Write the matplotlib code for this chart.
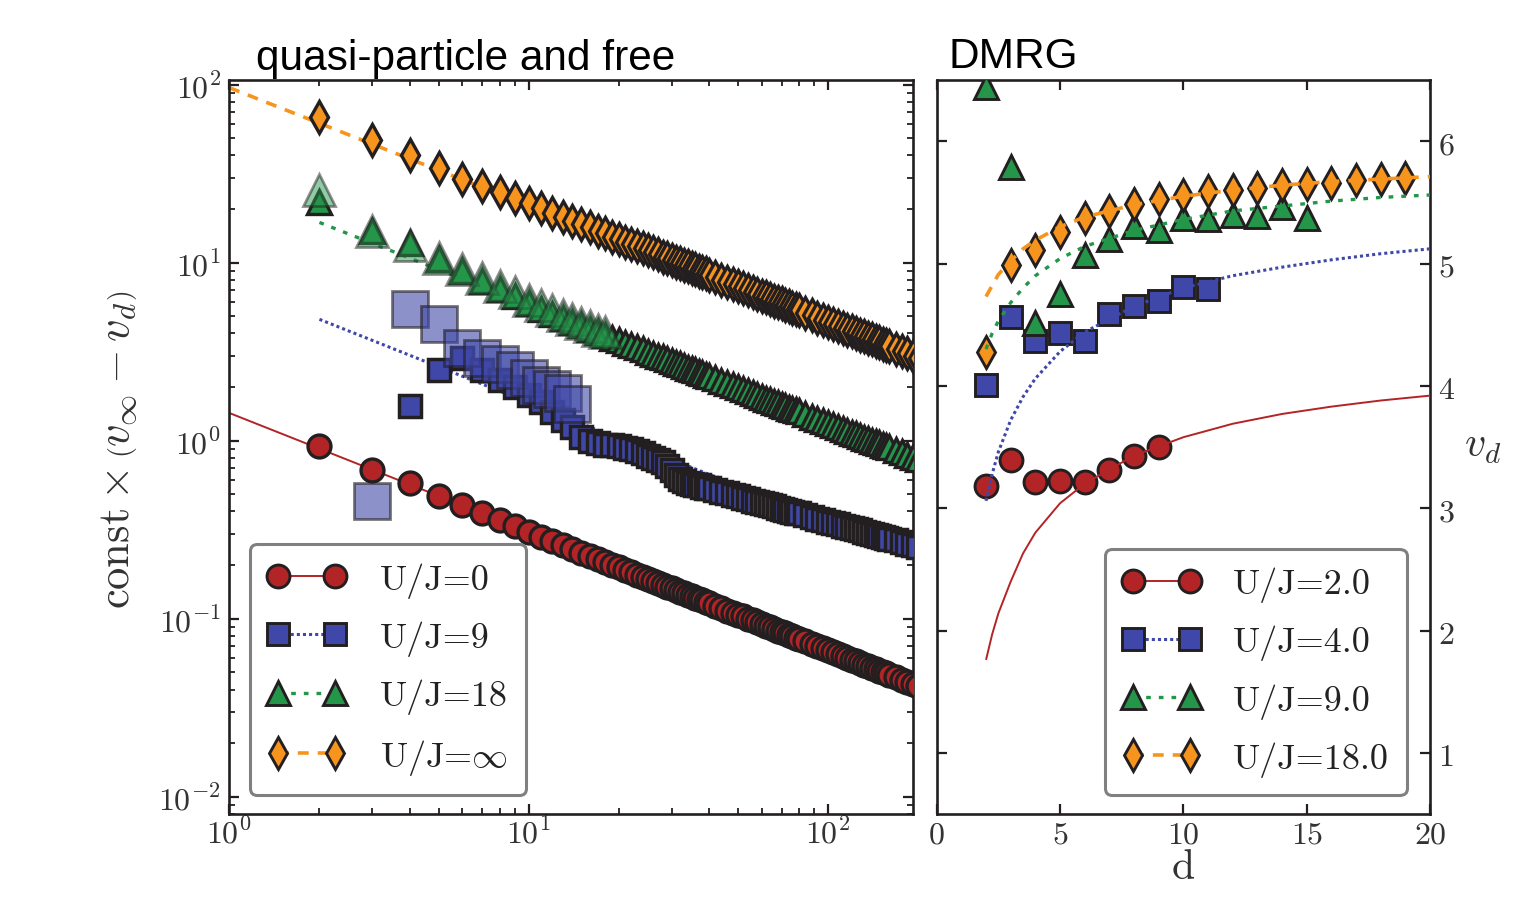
import matplotlib

matplotlib.use("Agg")
import matplotlib.pyplot as plt
import numpy as np
from matplotlib import ticker
from matplotlib.legend_handler import HandlerLine2D
from matplotlib.lines import Line2D

plt.rcParams["mathtext.fontset"] = "cm"

# ---- left panel: const x (v_inf - v_d) against d (log-log) ----
D_GRID = list(range(2, 41)) + list(range(42, 81, 2)) + list(range(84, 161, 4)) + list(range(168, 201, 8))

RED_Y = [0.93, 0.687, 0.575, 0.489, 0.433, 0.391, 0.358, 0.330, 0.308, 0.289, 0.273, 0.259, 0.246,
         0.235, 0.225, 0.216, 0.208, 0.201, 0.194, 0.188, 0.182, 0.177, 0.172, 0.167, 0.163, 0.159,
         0.155, 0.151, 0.148, 0.145, 0.142, 0.139, 0.136, 0.134, 0.131, 0.129, 0.127, 0.124, 0.122,
         0.118, 0.115, 0.111, 0.108, 0.105, 0.103, 0.100, 0.0977, 0.0954, 0.0934, 0.0912, 0.0894,
         0.0875, 0.0858, 0.0842, 0.0827, 0.0811, 0.0797, 0.0784, 0.0771,
         0.0745, 0.0722, 0.0702, 0.0682, 0.0664, 0.0646, 0.0631, 0.0615, 0.0601, 0.0588, 0.0575,
         0.0563, 0.0552, 0.0541, 0.0531, 0.0521, 0.0511, 0.0502, 0.0493, 0.0485,
         0.0469, 0.0455, 0.0442, 0.0429, 0.0418]

BLUE_Y = [1.56, 2.5, 2.9, 2.5, 2.2, 2.0, 1.8, 1.65, 1.45, 1.3, 1.2, 1.05, 1.0, 0.97, 0.95, 0.94,
          0.93, 0.91, 0.90, 0.88, 0.85, 0.82, 0.80, 0.78, 0.76, 0.72, 0.68, 0.64, 0.61, 0.59, 0.58,
          0.57, 0.565, 0.56, 0.55, 0.545, 0.54,
          0.528, 0.516, 0.506, 0.496, 0.486, 0.477, 0.469, 0.461, 0.453, 0.446, 0.439, 0.433,
          0.427, 0.421, 0.415, 0.410, 0.404, 0.399, 0.394, 0.390,
          0.381, 0.373, 0.365, 0.358, 0.351, 0.345, 0.339, 0.333, 0.327, 0.322, 0.317, 0.313,
          0.308, 0.304, 0.300, 0.296, 0.292, 0.288, 0.285, 0.281,
          0.275, 0.269, 0.264, 0.258, 0.253]

GREEN_Y = [22, 15.1, 12.9, 10.5, 9.0, 7.9, 7.1, 6.5, 5.9, 5.46, 5.15, 4.88, 4.65, 4.44, 4.25, 4.08,
           3.93, 3.79, 3.66, 3.55, 3.44, 3.34, 3.25, 3.16, 3.08, 3.00, 2.93, 2.86, 2.80, 2.74, 2.68,
           2.62, 2.57, 2.52, 2.48, 2.43, 2.39, 2.35, 2.31,
           2.24, 2.17, 2.10, 2.04, 1.99, 1.94, 1.89, 1.84, 1.80, 1.76, 1.72, 1.69, 1.65, 1.62,
           1.59, 1.56, 1.53, 1.50, 1.48, 1.46,
           1.41, 1.36, 1.33, 1.29, 1.25, 1.22, 1.19, 1.16, 1.13, 1.11, 1.09, 1.06, 1.04, 1.02,
           1.00, 0.983, 0.964, 0.948, 0.932, 0.915,
           0.886, 0.859, 0.834, 0.810, 0.788]

ORANGE_Y = [66, 48.5, 40.0, 33.8, 29.5, 27.0, 24.9, 23.0, 21.5, 20.2, 19.1, 18.1, 17.2, 16.4, 15.8,
            15.1, 14.6, 14.0, 13.6, 13.1, 12.7, 12.4, 12.0, 11.7, 11.4, 11.1, 10.8, 10.6, 10.4,
            10.1, 9.92, 9.72, 9.53, 9.35, 9.18, 9.01, 8.85, 8.70, 8.55,
            8.28, 8.02, 7.79, 7.57, 7.37, 7.18, 7.00, 6.83, 6.67, 6.53, 6.38, 6.25, 6.12, 6.00,
            5.89, 5.78, 5.67, 5.57, 5.48, 5.39,
            5.21, 5.05, 4.91, 4.77, 4.64, 4.52, 4.41, 4.30, 4.20, 4.11, 4.02, 3.94, 3.86, 3.78,
            3.71, 3.64, 3.57, 3.51, 3.45, 3.39,
            3.28, 3.18, 3.09, 3.00, 2.92]

# "free" results, drawn faded
FREE_BLUE_D = list(range(3, 15))
FREE_BLUE_Y = [0.46, 5.5, 4.5, 3.3, 2.9, 2.7, 2.5, 2.25, 2.05, 1.95, 1.85, 1.6]
FREE_GREEN_D = list(range(2, 19))
FREE_GREEN_Y = [25.5, 15.0, 12.5, 10.6, 9.2, 8.2, 7.4, 6.8, 6.2, 5.8, 5.4, 5.1, 4.85, 4.6, 4.4, 4.2, 4.05]

# power-law guide lines (end points)
RED_LINE = ([1, 200], [1.43, 0.0418])
BLUE_LINE = ([2, 200], [4.8, 0.22])
GREEN_LINE = ([2, 200], [16.8, 0.79])
ORANGE_LINE = ([1, 200], [96, 2.85])

LEFT_LABELS = ["U/J=0", "U/J=9", "U/J=18", r"U/J=$\infty$"]

# ---- right panel: DMRG v_d against d ----
DMRG_RED_Y = [3.18, 3.39, 3.21, 3.22, 3.21, 3.31, 3.43, 3.50]
DMRG_BLUE_Y = [4.01, 4.56, 4.37, 4.43, 4.37, 4.59, 4.65, 4.69, 4.81, 4.79]
DMRG_GREEN_Y = [6.44, 5.79, 4.51, 4.75, 5.07, 5.20, 5.31, 5.27, 5.37, 5.36, 5.40, 5.39, 5.46, 5.37]
DMRG_ORANGE_Y = [4.28, 4.99, 5.11, 5.26, 5.37, 5.43, 5.49, 5.53, 5.56, 5.59, 5.60, 5.62, 5.64, 5.65,
                 5.66, 5.68, 5.69, 5.70]

FIT_D = [2, 2.25, 2.5, 3, 3.5, 4, 5, 6, 8, 10, 12, 14, 16, 18, 20]
FIT_RED = [1.76, 1.97, 2.14, 2.40, 2.63, 2.80, 3.04, 3.20, 3.43, 3.58, 3.69, 3.77, 3.83, 3.88, 3.92]
FIT_BLUE = [3.06, 3.28, 3.46, 3.72, 3.91, 4.06, 4.28, 4.44, 4.65, 4.80, 4.90, 4.97, 5.03, 5.08, 5.12]
FIT_GREEN = [4.30, 4.43, 4.53, 4.68, 4.80, 4.90, 5.04, 5.14, 5.27, 5.36, 5.43, 5.47, 5.51, 5.54, 5.56]
FIT_ORANGE = [4.73, 4.82, 4.91, 5.02, 5.12, 5.19, 5.30, 5.38, 5.48, 5.55, 5.60, 5.64, 5.67, 5.69, 5.71]

RIGHT_LABELS = ["U/J=2.0", "U/J=4.0", "U/J=9.0", "U/J=18.0"]

RED = "#b22426"
BLUE = "#3f48a8"
GREEN = "#24964a"
ORANGE = "#f7941e"
INK = "#231f20"
EDGE = "#231f20"
MEW = 2.1

STYLES = {
    "red": dict(color=RED, marker="o", ls="-", lw=1.4, ms=16.5),
    "blue": dict(color=BLUE, marker="s", ls=(0, (1, 1)), lw=2.2, ms=16),
    "green": dict(color=GREEN, marker="^", ls=(0, (1.4, 2.4)), lw=2.4, ms=17),
    "orange": dict(color=ORANGE, marker="d", ls=(0, (3, 2.5)), lw=2.6, ms=16),
}
ORDER = ["red", "blue", "green", "orange"]


class ShiftedLineHandler(HandlerLine2D):
    # markers sit at the very ends of the handle, whole handle nudged right
    def __init__(self, shift):
        super().__init__(marker_pad=0)
        self.shift = shift

    def create_artists(self, legend, orig_handle, xdescent, ydescent, width, height, fontsize, trans):
        return super().create_artists(legend, orig_handle, xdescent - self.shift, ydescent,
                                      width, height, fontsize, trans)


def markers(ax, x, y, key, z, **kw):
    st = STYLES[key]
    opts = dict(ls="none", marker=st["marker"], ms=st["ms"], mfc=st["color"], mec=EDGE, mew=MEW, zorder=z)
    opts.update(kw)
    ax.plot(x, y, **opts)


def guide(ax, x, y, key, z):
    st = STYLES[key]
    ax.plot(x, y, color=st["color"], ls=st["ls"], lw=st["lw"], zorder=z, solid_capstyle="butt")


def legend_handles():
    handles = []
    for key in ORDER:
        st = STYLES[key]
        handles.append(Line2D([], [], color=st["color"], ls=st["ls"], lw=st["lw"], marker=st["marker"],
                              ms=st["ms"], mfc=st["color"], mec=EDGE, mew=MEW))
    return handles


def add_legend(ax, labels, anchor, shift, textpad):
    leg = ax.legend(legend_handles(), labels, loc="lower left", bbox_to_anchor=anchor, borderaxespad=0,
                    numpoints=2, handlelength=1.58, handletextpad=textpad, labelspacing=0.63, borderpad=0.5,
                    prop={"family": "cmr10", "size": 26}, fancybox=True, framealpha=1,
                    handler_map={Line2D: ShiftedLineHandler(shift)})
    frame = leg.get_frame()
    frame.set_edgecolor("#808080")
    frame.set_linewidth(2.2)
    for t in leg.get_texts():
        t.set_color("#222222")
    leg.set_zorder(10)
    return leg


def style_axes(ax):
    for sp in ax.spines.values():
        sp.set_linewidth(1.9)
        sp.set_color(INK)
    ax.tick_params(which="both", direction="in", top=True, right=True, colors=INK,
                   labelcolor="#333333", labelsize=23, pad=6)
    ax.tick_params(axis="x", pad=3)
    ax.tick_params(which="major", length=7, width=1.6)
    ax.tick_params(which="minor", length=4, width=1.3)


fig = plt.figure(figsize=(15.26, 9.04), dpi=100)
W, H = 1526, 904
ax1 = fig.add_axes([229.3 / W, 1 - 815 / H, (913 - 229.3) / W, (815 - 81) / H])
ax2 = fig.add_axes([936.7 / W, 1 - 815 / H, (1430 - 936.7) / W, (815 - 81) / H])

# left panel
ax1.set_xscale("log")
ax1.set_yscale("log")
guide(ax1, *RED_LINE, "red", 2)
guide(ax1, *BLUE_LINE, "blue", 2)
guide(ax1, *GREEN_LINE, "green", 2)
guide(ax1, *ORANGE_LINE, "orange", 2)
markers(ax1, D_GRID[2:], BLUE_Y, "blue", 3, mew=2.5)
markers(ax1, FREE_BLUE_D, FREE_BLUE_Y, "blue", 4, ms=26, alpha=0.6, mew=2)
markers(ax1, D_GRID, GREEN_Y, "green", 3, mew=2.4)
markers(ax1, FREE_GREEN_D, FREE_GREEN_Y, "green", 4, ms=23, alpha=0.5, mew=2)
markers(ax1, D_GRID, ORANGE_Y, "orange", 3, mew=2.4)
markers(ax1, D_GRID, RED_Y, "red", 5, mew=2.4)
ax1.set_xlim(1, 192)
ax1.set_ylim(0.008, 106)
style_axes(ax1)
log_fmt = ticker.FuncFormatter(lambda v, p: r"$10^{%d}$" % round(np.log10(v)))
ax1.xaxis.set_major_formatter(log_fmt)
ax1.yaxis.set_major_formatter(log_fmt)
ax1.xaxis.set_minor_formatter(ticker.NullFormatter())
ax1.yaxis.set_minor_formatter(ticker.NullFormatter())
ax1.yaxis.set_major_locator(ticker.LogLocator(base=10, numticks=10))
ax1.yaxis.set_minor_locator(ticker.LogLocator(base=10, subs=np.arange(2, 10), numticks=20))
add_legend(ax1, LEFT_LABELS, ((250 - 229.3) / 683.7, (815 - 796) / 734), shift=7.2, textpad=1.25 + 0.28)

# right panel
guide(ax2, FIT_D, FIT_RED, "red", 6)
guide(ax2, FIT_D, FIT_BLUE, "blue", 6)
guide(ax2, FIT_D, FIT_GREEN, "green", 6)
guide(ax2, FIT_D, FIT_ORANGE, "orange", 6)
markers(ax2, range(2, 2 + len(DMRG_RED_Y)), DMRG_RED_Y, "red", 3)
markers(ax2, range(2, 2 + len(DMRG_BLUE_Y)), DMRG_BLUE_Y, "blue", 3.1)
markers(ax2, range(2, 2 + len(DMRG_GREEN_Y)), DMRG_GREEN_Y, "green", 3.2)
markers(ax2, range(2, 2 + len(DMRG_ORANGE_Y)), DMRG_ORANGE_Y, "orange", 3.3)
ax2.set_xlim(0, 20)
ax2.set_ylim(0.5, 6.5)
style_axes(ax2)
ax2.set_xticks([0, 5, 10, 15, 20])
ax2.set_yticks([1, 2, 3, 4, 5, 6])
int_fmt = ticker.FuncFormatter(lambda v, p: r"$%d$" % round(v))
ax2.xaxis.set_major_formatter(int_fmt)
ax2.yaxis.set_major_formatter(int_fmt)
ax2.tick_params(axis="y", labelleft=False, labelright=True)
add_legend(ax2, RIGHT_LABELS, ((1105 - 936.7) / 493.3, (815 - 796) / 734), shift=7.2, textpad=1.25 + 0.2)

# texts
fig.text(256 / W, 1 - 70 / H, "quasi-particle and free", family="Liberation Sans", fontsize=30.5,
         va="baseline", ha="left", color="black")
fig.text(948 / W, 1 - 68 / H, "DMRG", family="Liberation Sans", fontsize=30.5,
         va="baseline", ha="left", color="black")
fig.text(118 / W, 1 - 450 / H, r"$\mathrm{const}\times\left(v_\infty-v_d\right)$", rotation=90,
         ha="center", va="center", fontsize=32, color="#333333")
fig.text(1483 / W, 1 - 445 / H, r"$v_d$", ha="center", va="center", fontsize=30, color="#333333")
fig.text(1183 / W, 1 - 868 / H, "d", family="cmr10", ha="center", va="center", fontsize=30,
         color="#333333")

fig.savefig("out.png", dpi=100)
